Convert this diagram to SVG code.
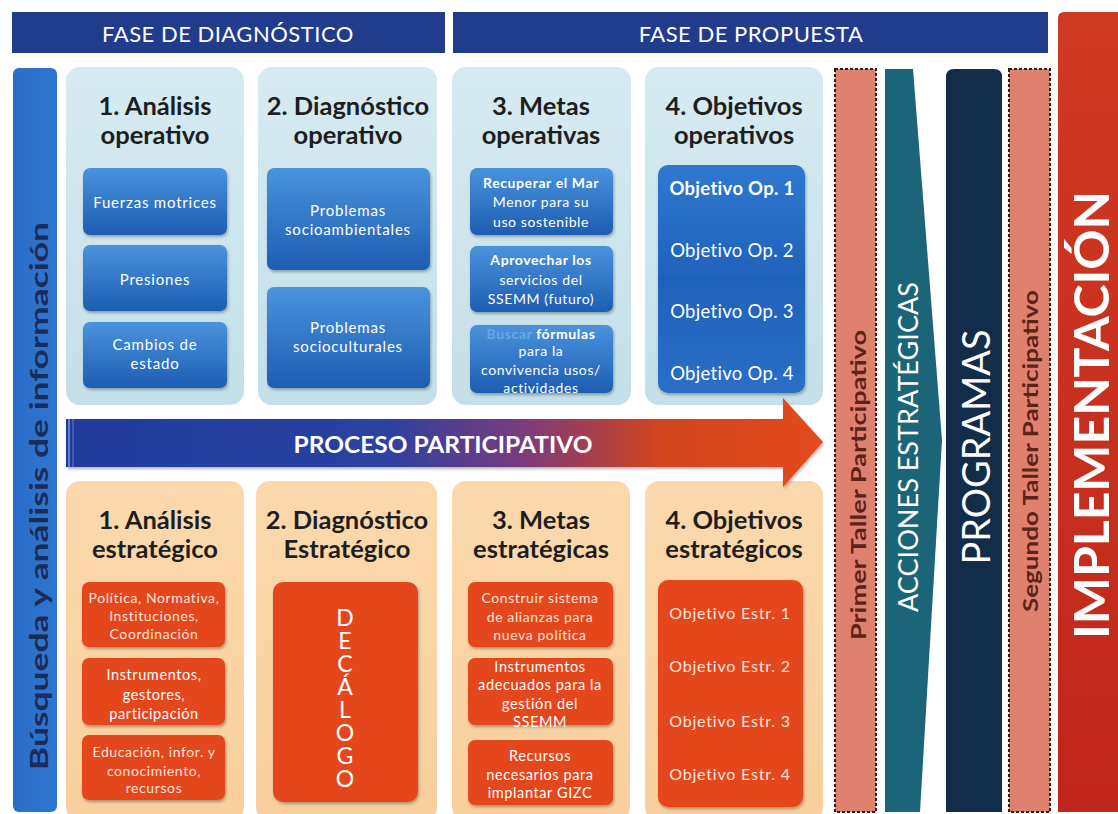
<svg xmlns="http://www.w3.org/2000/svg" width="1118" height="814" viewBox="0 0 1118 814">
<defs>
<linearGradient id="gPanelB" x1="0" y1="0" x2="0" y2="1">
<stop offset="0" stop-color="#d6ebf1"/><stop offset="1" stop-color="#c4dfe8"/>
</linearGradient>
<linearGradient id="gPanelO" x1="0" y1="0" x2="0" y2="1">
<stop offset="0" stop-color="#fbd9ad"/><stop offset="1" stop-color="#f8cf9c"/>
</linearGradient>
<linearGradient id="gBox" x1="0" y1="0" x2="0" y2="1">
<stop offset="0" stop-color="#4a93dc"/><stop offset="1" stop-color="#1d5db3"/>
</linearGradient>
<linearGradient id="gBoxBig" x1="0" y1="0" x2="0" y2="1">
<stop offset="0" stop-color="#2f78cf"/><stop offset="0.5" stop-color="#1f62bb"/><stop offset="1" stop-color="#2a6fc8"/>
</linearGradient>
<linearGradient id="gArrow" x1="66" y1="0" x2="823" y2="0" gradientUnits="userSpaceOnUse">
<stop offset="0" stop-color="#1f3d9c"/><stop offset="0.42" stop-color="#2a42a0"/><stop offset="0.6" stop-color="#7a3a7e"/><stop offset="0.78" stop-color="#cf4420"/><stop offset="1" stop-color="#e44a1b"/>
</linearGradient>
<linearGradient id="gImpl" x1="0" y1="0" x2="0" y2="1">
<stop offset="0" stop-color="#cf3a22"/><stop offset="1" stop-color="#c0261c"/>
</linearGradient>
<linearGradient id="gLeft" x1="0" y1="0" x2="1" y2="0">
<stop offset="0" stop-color="#2a6dc8"/><stop offset="1" stop-color="#2f76d0"/>
</linearGradient>
<filter id="sh" x="-10%" y="-10%" width="130%" height="130%">
<feDropShadow dx="1" dy="2" stdDeviation="1.5" flood-color="#000" flood-opacity="0.3"/>
</filter>
</defs>
<style>
.hdr{fill:#223c8d}
.hdrT{font-family:Lato,"Open Sans",sans-serif;font-size:22px;fill:#fff;text-anchor:middle;letter-spacing:0.5px}
.pB{fill:url(#gPanelB)}
.pO{fill:url(#gPanelO)}
.ttl{font-family:Lato,"Open Sans",sans-serif;font-weight:bold;font-size:25.5px;fill:#1e1e1e;text-anchor:middle}
.bx{fill:url(#gBox);filter:url(#sh)}
.bxBig{fill:url(#gBoxBig);filter:url(#sh)}
.ob{fill:#e5471d;filter:url(#sh)}
.bt{font-family:Lato,"Open Sans",sans-serif;font-size:15px;font-weight:normal;fill:#fff;text-anchor:middle;letter-spacing:0.8px}
.bts{font-family:Lato,"Open Sans",sans-serif;font-size:14px;fill:#fff;text-anchor:middle;letter-spacing:0.6px}
.btb{font-weight:bold}
.ot{font-family:Lato,"Open Sans",sans-serif;font-size:14px;font-weight:normal;fill:#fbe3da;text-anchor:middle;letter-spacing:0.6px}
.ow{fill:#fff;font-size:14.5px}
.oe{font-size:16px;letter-spacing:0.8px}
.opT{font-family:Lato,"Open Sans",sans-serif;font-size:18.5px;fill:#fff;text-anchor:middle;letter-spacing:0.3px}
.salm{fill:#e0806f;stroke:#3a1a12;stroke-width:2;stroke-dasharray:3 2}
.vt{font-family:Lato,"Open Sans",sans-serif;text-anchor:middle}
</style>

<g id="fase-diagnostico">
<rect class="hdr" x="12" y="12" width="433" height="41"/>
<text class="hdrT" x="228" y="42">FASE DE DIAGNÓSTICO</text>
</g>
<g id="fase-propuesta">
<rect class="hdr" x="453" y="12" width="595" height="41"/>
<text class="hdrT" x="751" y="42">FASE DE PROPUESTA</text>
</g>

<g id="busqueda">
<rect x="13" y="68" width="44" height="744" rx="6" fill="url(#gLeft)"/>
<text class="vt" transform="translate(48,496) rotate(-90)" font-size="24" font-weight="bold" fill="#1b2c58" textLength="548" lengthAdjust="spacingAndGlyphs">Búsqueda y análisis de información</text>
</g>

<g id="analisis-operativo">
<rect class="pB" x="66" y="67" width="178" height="338" rx="14"/>
<text class="ttl" x="155" y="115">1. Análisis</text>
<text class="ttl" x="155" y="144">operativo</text>
<rect class="bx" x="83" y="168" width="144" height="67" rx="7"/>
<text class="bt" x="155" y="208">Fuerzas motrices</text>
<rect class="bx" x="83" y="245" width="144" height="66" rx="7"/>
<text class="bt" x="155" y="285">Presiones</text>
<rect class="bx" x="83" y="322" width="144" height="66" rx="7"/>
<text class="bt" x="155" y="350">Cambios de</text>
<text class="bt" x="155" y="369">estado</text>
</g>

<g id="diagnostico-operativo">
<rect class="pB" x="258" y="67" width="179" height="338" rx="14"/>
<text class="ttl" x="348" y="115">2. Diagnóstico</text>
<text class="ttl" x="348" y="144">operativo</text>
<rect class="bx" x="267" y="168" width="163" height="102" rx="7"/>
<text class="bt" x="348" y="216">Problemas</text>
<text class="bt" x="348" y="235">socioambientales</text>
<rect class="bx" x="267" y="287" width="163" height="101" rx="7"/>
<text class="bt" x="348" y="333">Problemas</text>
<text class="bt" x="348" y="352">socioculturales</text>
</g>

<g id="metas-operativas">
<rect class="pB" x="452" y="67" width="179" height="338" rx="14"/>
<text class="ttl" x="541" y="115">3. Metas</text>
<text class="ttl" x="541" y="144">operativas</text>
<rect class="bx" x="470" y="168" width="143" height="67" rx="7"/>
<text class="bts btb" x="541" y="188">Recuperar el Mar</text>
<text class="bts" x="541" y="207">Menor para su</text>
<text class="bts" x="541" y="227">uso sostenible</text>
<rect class="bx" x="470" y="246" width="143" height="66" rx="7"/>
<text class="bts btb" x="541" y="265">Aprovechar los</text>
<text class="bts" x="541" y="285">servicios del</text>
<text class="bts" x="541" y="304">SSEMM (futuro)</text>
<rect class="bx" x="470" y="325" width="143" height="68" rx="7"/>
<text class="bts btb" x="541" y="339"><tspan fill="#6aa6e6">Buscar</tspan> fórmulas</text>
<text class="bts" x="541" y="356">para la</text>
<text class="bts" x="541" y="375">convivencia usos/</text>
<text class="bts" x="541" y="393">actividades</text>
</g>

<g id="objetivos-operativos">
<rect class="pB" x="645" y="67" width="178" height="338" rx="14"/>
<text class="ttl" x="734" y="115">4. Objetivos</text>
<text class="ttl" x="734" y="144">operativos</text>
<rect class="bxBig" x="658" y="165" width="147" height="228" rx="10"/>
<text class="opT btb" x="732" y="195">Objetivo Op. 1</text>
<text class="opT" x="732" y="257">Objetivo Op. 2</text>
<text class="opT" x="732" y="318">Objetivo Op. 3</text>
<text class="opT" x="732" y="380">Objetivo Op. 4</text>
</g>

<g id="analisis-estrategico">
<rect class="pO" x="66" y="481" width="178" height="340" rx="14"/>
<text class="ttl" x="155" y="529">1. Análisis</text>
<text class="ttl" x="155" y="558">estratégico</text>
<rect class="ob" x="82" y="582" width="143" height="65" rx="7"/>
<text class="ot" x="154" y="603">Política, Normativa,</text>
<text class="ot" x="154" y="621">Instituciones,</text>
<text class="ot" x="154" y="639">Coordinación</text>
<rect class="ob" x="82" y="658" width="143" height="67" rx="7"/>
<text class="ot ow" x="154" y="680">Instrumentos,</text>
<text class="ot ow" x="154" y="700">gestores,</text>
<text class="ot ow" x="154" y="719">participación</text>
<rect class="ob" x="82" y="735" width="143" height="65" rx="7"/>
<text class="ot" x="154" y="757">Educación, infor. y</text>
<text class="ot" x="154" y="776">conocimiento,</text>
<text class="ot" x="154" y="793">recursos</text>
</g>

<g id="diagnostico-estrategico">
<rect class="pO" x="256" y="481" width="181" height="340" rx="14"/>
<text class="ttl" x="347" y="529">2. Diagnóstico</text>
<text class="ttl" x="347" y="558">Estratégico</text>
<rect class="ob" x="273" y="582" width="145" height="220" rx="10"/>
<text x="345" y="603" font-family="Lato,'Open Sans',sans-serif" font-size="23" fill="#fff" style="writing-mode:vertical-rl;text-orientation:upright;letter-spacing:-5px">DECÁLOGO</text>
</g>

<g id="metas-estrategicas">
<rect class="pO" x="452" y="481" width="178" height="340" rx="14"/>
<text class="ttl" x="541" y="529">3. Metas</text>
<text class="ttl" x="541" y="558">estratégicas</text>
<rect class="ob" x="468" y="582" width="145" height="65" rx="7"/>
<text class="ot" x="540" y="603">Construir sistema</text>
<text class="ot" x="540" y="622">de alianzas para</text>
<text class="ot" x="540" y="640">nueva política</text>
<rect class="ob" x="468" y="658" width="145" height="67" rx="7"/>
<text class="ot ow" x="540" y="672">Instrumentos</text>
<text class="ot ow" x="540" y="690">adecuados para la</text>
<text class="ot ow" x="540" y="709">gestión del</text>
<text class="ot ow" x="540" y="727">SSEMM</text>
<rect class="ob" x="468" y="740" width="145" height="65" rx="7"/>
<text class="ot ow" x="540" y="761">Recursos</text>
<text class="ot ow" x="540" y="780">necesarios para</text>
<text class="ot ow" x="540" y="798">implantar GIZC</text>
</g>

<g id="objetivos-estrategicos">
<rect class="pO" x="645" y="481" width="178" height="340" rx="14"/>
<text class="ttl" x="734" y="529">4. Objetivos</text>
<text class="ttl" x="734" y="558">estratégicos</text>
<rect class="ob" x="658" y="580" width="145" height="227" rx="10"/>
<text class="ot oe" x="730" y="619">Objetivo Estr. 1</text>
<text class="ot oe" x="730" y="672">Objetivo Estr. 2</text>
<text class="ot oe" x="730" y="727">Objetivo Estr. 3</text>
<text class="ot oe" x="730" y="780">Objetivo Estr. 4</text>
</g>

<g id="connectors">
<g id="proceso-participativo">
<polygon points="66,419 783,419 783,398 823,442 783,487 783,467 66,467" fill="url(#gArrow)" filter="url(#sh)"/>
<line x1="69" y1="419" x2="69" y2="467" stroke="#7d97d8" stroke-width="1.5"/>
<line x1="73" y1="419" x2="73" y2="467" stroke="#6581cc" stroke-width="1"/>
<text x="443" y="453" font-family="Lato,'Open Sans',sans-serif" font-weight="bold" font-size="23" fill="#fff" text-anchor="middle" textLength="299" lengthAdjust="spacingAndGlyphs">PROCESO PARTICIPATIVO</text>
</g>
</g>

<g id="primer-taller">
<rect class="salm" x="835" y="69" width="41" height="743"/>
<text class="vt" transform="translate(866,485) rotate(-90)" font-size="21" font-weight="bold" fill="#5a2418" textLength="310" lengthAdjust="spacingAndGlyphs">Primer Taller Participativo</text>
</g>

<g id="acciones-estrategicas">
<polygon points="885,69 913,69 942,440 920,812 885,812" fill="#1c6579"/>
<text class="vt" transform="translate(918,447) rotate(-90)" font-size="27" fill="#fff" textLength="330" lengthAdjust="spacingAndGlyphs">ACCIONES ESTRATÉGICAS</text>
</g>

<g id="programas">
<path d="M946,812 V77 Q946,69 954,69 H994 Q1002,69 1002,77 V812 Z" fill="#112d4a"/>
<text class="vt" transform="translate(990,447) rotate(-90)" font-size="38" fill="#fff" textLength="235" lengthAdjust="spacingAndGlyphs">PROGRAMAS</text>
</g>

<g id="segundo-taller">
<rect class="salm" x="1009" y="69" width="41" height="743"/>
<text class="vt" transform="translate(1038,451) rotate(-90)" font-size="20" font-weight="bold" fill="#5a2418" textLength="322" lengthAdjust="spacingAndGlyphs">Segundo Taller Participativo</text>
</g>

<g id="implementacion">
<path d="M1058,812 V18 Q1058,12 1064,12 H1118 V812 Z" fill="url(#gImpl)"/>
<text class="vt" transform="translate(1109,415) rotate(-90)" font-size="48" font-weight="bold" fill="#fff" textLength="448" lengthAdjust="spacingAndGlyphs">IMPLEMENTACIÓN</text>
</g>
</svg>
